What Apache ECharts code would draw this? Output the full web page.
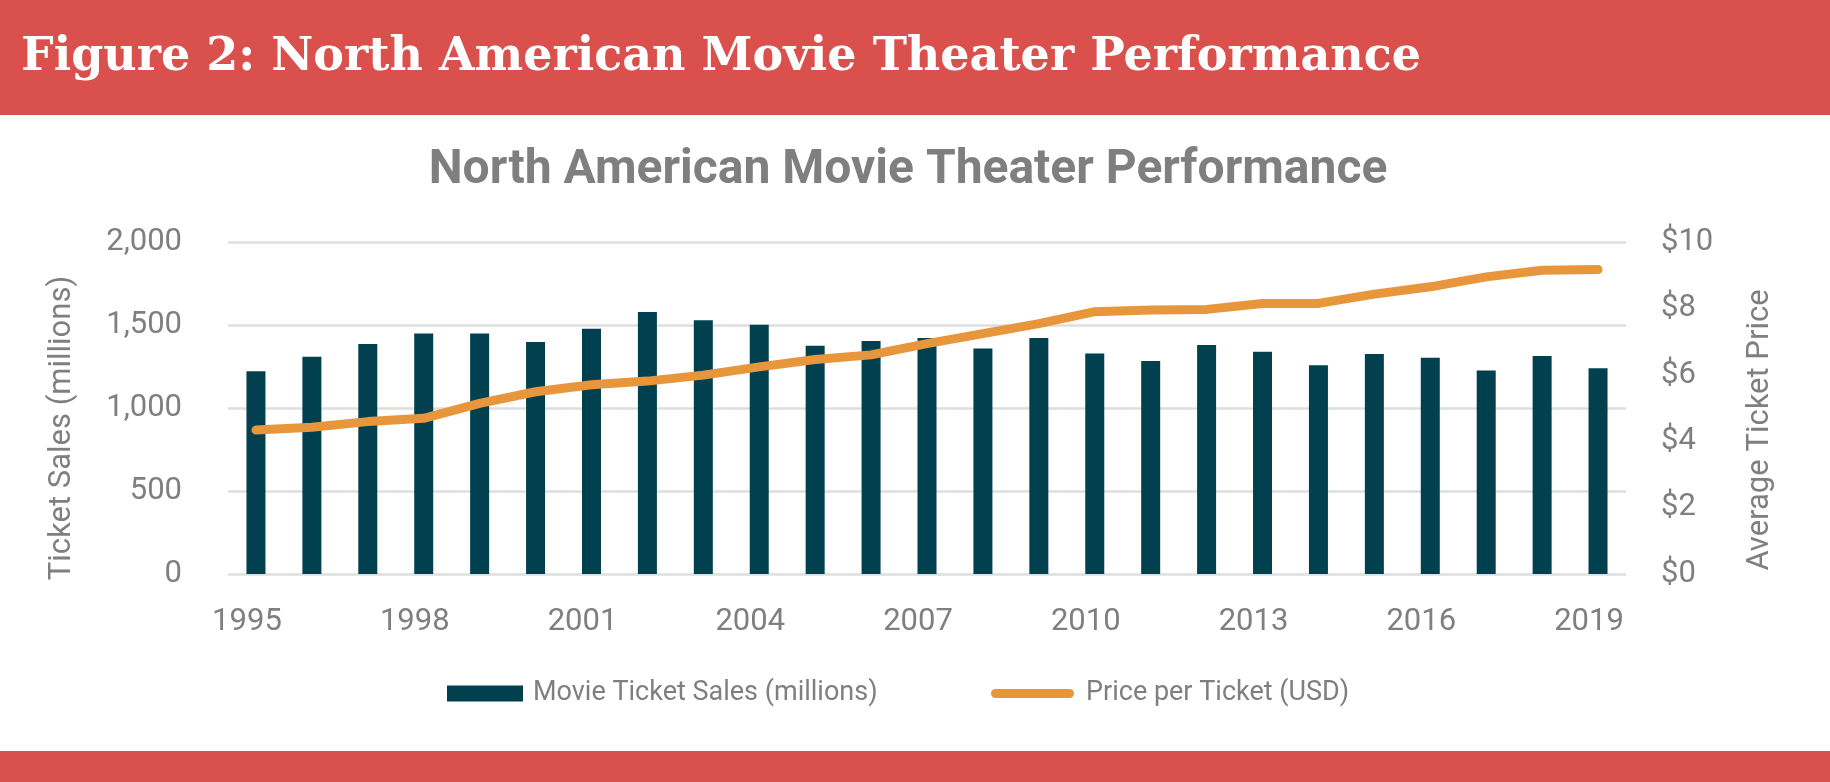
<!DOCTYPE html>
<html>
<head>
<meta charset="utf-8">
<script src="https://cdn.jsdelivr.net/npm/echarts@6/dist/echarts.min.js"></script>
<style>
html,body{margin:0;padding:0;background:#fff;}
#chart{width:1830px;height:782px;}
</style>
</head>
<body>
<div id="chart"></div>
<script>
const years = ['1995','1996','1997','1998','1999','2000','2001','2002','2003','2004','2005','2006','2007','2008','2009','2010','2011','2012','2013','2014','2015','2016','2017','2018','2019'];
const ticketSales = [1222,1309,1385,1449,1449,1397,1477,1579,1529,1501,1375,1403,1421,1359,1421,1329,1283,1379,1339,1257,1325,1303,1226,1313,1240];
const ticketPrice = [4.34,4.42,4.59,4.69,5.14,5.49,5.70,5.81,5.99,6.24,6.46,6.60,6.94,7.24,7.54,7.90,7.95,7.97,8.15,8.15,8.43,8.65,8.95,9.15,9.17];
const salesTicks = [0,500,1000,1500,2000];
const priceTicks = [0,2,4,6,8,10];

const headerText = 'Figure 2: North American Movie Theater Performance';
const chartTitle = 'North American Movie Theater Performance';
const leftAxisName = 'Ticket Sales (millions)';
const rightAxisName = 'Average Ticket Price';
const salesName = 'Movie Ticket Sales (millions)';
const priceName = 'Price per Ticket (USD)';

const GRAY = '#7f7f7f';
const FONT = 'Roboto, "Noto Sans", sans-serif';

const chart = echarts.init(document.getElementById('chart'), null, {renderer:'canvas'});
chart.setOption({
  animation: false,
  backgroundColor: '#ffffff',
  graphic: [
    {type:'rect', shape:{x:0,y:0,width:1830,height:115}, style:{fill:'#D9504D'}, z:-1},
    {type:'rect', shape:{x:0,y:751,width:1830,height:31}, style:{fill:'#D9504D'}, z:-1},
    {type:'text', x:21, y:58, style:{text:headerText, fill:'#ffffff', font:'bold 46px "DejaVu Serif", serif', verticalAlign:'middle', align:'left'}},
    {type:'text', x:908, y:171, style:{text:chartTitle, fill:GRAY, font:'bold 48px ' + FONT, verticalAlign:'middle', align:'center'}},
    {type:'text', x:62, y:428, rotation:Math.PI/2, style:{text:leftAxisName, fill:GRAY, font:'31px ' + FONT, verticalAlign:'middle', align:'center'}},
    {type:'text', x:1760, y:430, rotation:Math.PI/2, style:{text:rightAxisName, fill:GRAY, font:'31px ' + FONT, verticalAlign:'middle', align:'center'}}
  ],
  grid: {left:228, right:204, top:242, bottom:208, containLabel:false},
  legend: [
    {data:[salesName], left:447, top:680, padding:0, itemWidth:76, itemHeight:16, icon:'rect',
     textStyle:{color:GRAY, fontSize:27, fontFamily:FONT, padding:[0,0,0,5]}},
    {data:[priceName], left:991, top:680, padding:0, itemWidth:83, itemHeight:9,
     icon:'path://M4.5,0 H78.5 A4.5,4.5 0 0 1 78.5,9 H4.5 A4.5,4.5 0 0 1 4.5,0 Z',
     textStyle:{color:GRAY, fontSize:27, fontFamily:FONT, padding:[0,0,0,7]}}
  ],
  xAxis: {
    type:'category', data:years, boundaryGap:true,
    axisLine:{show:false}, axisTick:{show:false},
    axisLabel:{interval:2, color:GRAY, fontSize:31, fontFamily:FONT, margin:33, padding:[0,18,0,0]}
  },
  yAxis: [
    {type:'value', min:salesTicks[0], max:salesTicks[salesTicks.length-1], interval:500,
     axisLine:{show:false}, axisTick:{show:false},
     splitLine:{lineStyle:{color:'#dedede', width:2.5}},
     axisLabel:{color:GRAY, fontSize:31, fontFamily:FONT, margin:46,
       formatter:v => v.toLocaleString('en-US')}},
    {type:'value', min:priceTicks[0], max:priceTicks[priceTicks.length-1], interval:2,
     axisLine:{show:false}, axisTick:{show:false}, splitLine:{show:false},
     axisLabel:{color:GRAY, fontSize:31, fontFamily:FONT, margin:35, formatter:v => '$' + v}}
  ],
  series: [
    {name:salesName, type:'bar', data:ticketSales, barWidth:19, yAxisIndex:0,
     itemStyle:{color:'#01404F'}},
    {name:priceName, type:'line', data:ticketPrice, yAxisIndex:1, symbol:'none',
     lineStyle:{color:'#E8963B', width:9, cap:'round', join:'round'}, itemStyle:{color:'#E8963B'}, z:3}
  ]
});
</script>
</body>
</html>
